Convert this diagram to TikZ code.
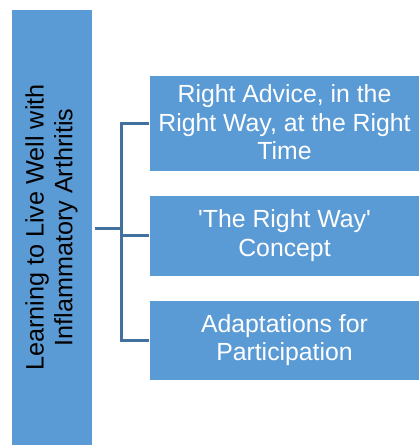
\documentclass[tikz,border=0pt]{standalone}
\usepackage{fontspec}
\setmainfont{Liberation Sans}
\definecolor{boxblue}{RGB}{91,155,213}
\definecolor{linkblue}{RGB}{65,113,156}
\begin{document}
\begin{tikzpicture}[x=1pt,y=-1pt,
  bluebox/.style={fill=boxblue,draw=white,line width=0.6pt},
  boxtext/.style={text=white,align=center,font=\fontsize{24.8}{28.4}\selectfont},
  roottext/.style={text=black,align=center,font=\fontsize{25.2}{28.6}\selectfont},
  link/.style={draw=linkblue,line width=2.6pt}]
\useasboundingbox (0,0) rectangle (419,445);
% left tall box
\path[bluebox] (11.3,9.3) rectangle (92,446);
\node[roottext,rotate=90] (root) at (51.5,227.5) {Learning to Live Well with\\Inflammatory Arthritis};
\coordinate (rootR) at (92,228.3);
% right boxes
\path[bluebox] (149.3,75.3) rectangle (420,171.3);
\path[bluebox] (149.3,195.3) rectangle (420,276);
\path[bluebox] (149.3,300) rectangle (420,380.7);
\node[boxtext] (b1) at (284.5,122.5) {Right Advice, in the\\Right Way, at the Right\\Time};
\node[boxtext] (b2) at (284.5,235.7) {\textquotesingle The Right Way\textquotesingle\\Concept};
\node[boxtext] (b3) at (284.5,340.3) {Adaptations for\\Participation};
\coordinate (b1L) at (149.3,123.3);
\coordinate (b2L) at (149.3,235.7);
\coordinate (b3L) at (149.3,340.3);
\coordinate (hub) at (121.5,228.3);
% connectors
\draw[link] (rootR) ++(2.5,0) -- (hub);
\draw[link] (b1L) -- (b1L -| hub) -- (b3L -| hub) -- (b3L);
\draw[link] (b2L -| hub) -- (b2L);
\end{tikzpicture}
\end{document}
